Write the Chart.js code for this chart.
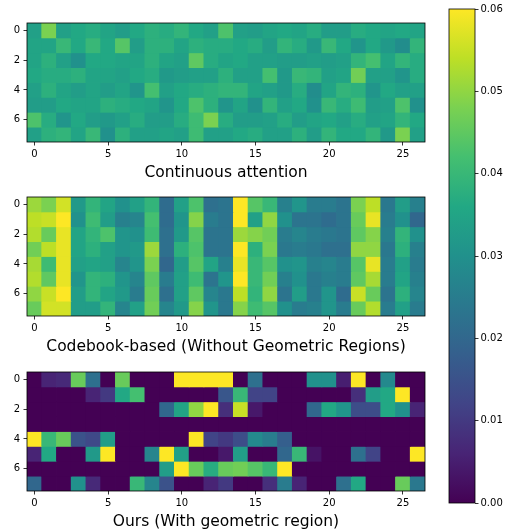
<!DOCTYPE html>
<html>
<head>
<meta charset="utf-8">
<script src="https://cdn.jsdelivr.net/npm/chart.js@4.4.0/dist/chart.umd.min.js"></script>
<style>
  body { margin: 0; background: #fff; }
  #wrap { position: relative; width: 509px; height: 529px; }
  canvas { position: absolute; }
</style>
</head>
<body>
<div id="wrap">
  <canvas id="h1" width="430" height="164" style="left:0;top:18px"></canvas>
  <canvas id="h2" width="430" height="164" style="left:0;top:192px"></canvas>
  <canvas id="h3" width="430" height="164" style="left:0;top:367px"></canvas>
  <canvas id="cbar" width="69" height="529" style="left:440px;top:0"></canvas>
</div>
<script>
// === Data (8 rows x 27 columns per panel) ===
const colLabels = Array.from({ length: 27 }, (_, i) => String(i));
const colTicks = [0, 5, 10, 15, 20, 25];
const rowTicks = [0, 2, 4, 6];
const cbarTicks = [0, 0.01, 0.02, 0.03, 0.04, 0.05, 0.06];
const vmin = 0, vmax = 0.06;

const continuousAttn = [
  [0.034,0.048,0.034,0.036,0.037,0.035,0.033,0.036,0.038,0.037,0.039,0.036,0.034,0.043,0.034,0.033,0.035,0.036,0.035,0.037,0.033,0.033,0.037,0.036,0.035,0.036,0.035],
  [0.035,0.035,0.040,0.036,0.040,0.036,0.044,0.033,0.038,0.038,0.035,0.038,0.037,0.037,0.036,0.037,0.033,0.039,0.037,0.032,0.040,0.036,0.031,0.036,0.032,0.029,0.039],
  [0.035,0.038,0.034,0.030,0.036,0.036,0.035,0.035,0.038,0.035,0.034,0.045,0.037,0.035,0.036,0.034,0.034,0.033,0.033,0.034,0.033,0.034,0.039,0.042,0.035,0.039,0.037],
  [0.036,0.037,0.037,0.038,0.035,0.035,0.034,0.036,0.037,0.032,0.033,0.034,0.034,0.038,0.034,0.034,0.042,0.032,0.040,0.039,0.034,0.035,0.047,0.034,0.034,0.031,0.037],
  [0.034,0.038,0.035,0.033,0.035,0.033,0.035,0.031,0.042,0.034,0.036,0.037,0.038,0.039,0.039,0.035,0.034,0.032,0.037,0.029,0.035,0.039,0.038,0.031,0.036,0.034,0.034],
  [0.033,0.033,0.036,0.035,0.035,0.038,0.037,0.036,0.035,0.031,0.036,0.043,0.038,0.031,0.035,0.030,0.039,0.034,0.036,0.030,0.040,0.037,0.041,0.033,0.034,0.043,0.030],
  [0.043,0.037,0.031,0.036,0.033,0.032,0.034,0.037,0.033,0.033,0.037,0.041,0.048,0.037,0.033,0.033,0.034,0.037,0.033,0.035,0.036,0.034,0.037,0.034,0.035,0.039,0.036],
  [0.034,0.038,0.039,0.035,0.040,0.030,0.038,0.034,0.034,0.035,0.034,0.041,0.034,0.034,0.036,0.037,0.034,0.034,0.038,0.033,0.039,0.036,0.036,0.039,0.032,0.048,0.034]
];

const codebookBased = [
  [0.051,0.048,0.056,0.032,0.039,0.035,0.030,0.034,0.039,0.021,0.034,0.043,0.022,0.023,0.060,0.044,0.040,0.026,0.031,0.025,0.025,0.023,0.048,0.054,0.024,0.033,0.026],
  [0.054,0.055,0.060,0.030,0.041,0.033,0.026,0.027,0.042,0.021,0.031,0.049,0.025,0.023,0.060,0.034,0.050,0.030,0.023,0.023,0.021,0.023,0.046,0.058,0.025,0.030,0.020],
  [0.053,0.046,0.058,0.035,0.039,0.043,0.031,0.030,0.041,0.022,0.032,0.044,0.023,0.023,0.051,0.049,0.047,0.025,0.027,0.025,0.024,0.023,0.045,0.049,0.026,0.039,0.030],
  [0.047,0.054,0.058,0.035,0.038,0.034,0.031,0.032,0.051,0.022,0.038,0.043,0.023,0.023,0.060,0.038,0.048,0.024,0.025,0.024,0.022,0.022,0.050,0.050,0.024,0.038,0.026],
  [0.052,0.041,0.058,0.034,0.035,0.034,0.027,0.031,0.048,0.020,0.033,0.044,0.035,0.026,0.058,0.040,0.044,0.030,0.031,0.026,0.027,0.025,0.044,0.058,0.025,0.034,0.025],
  [0.053,0.045,0.058,0.031,0.039,0.038,0.031,0.027,0.045,0.025,0.034,0.041,0.023,0.031,0.060,0.040,0.047,0.026,0.030,0.024,0.026,0.025,0.045,0.052,0.025,0.035,0.026],
  [0.050,0.055,0.060,0.033,0.039,0.035,0.032,0.025,0.046,0.022,0.034,0.045,0.027,0.024,0.054,0.039,0.050,0.023,0.033,0.024,0.031,0.021,0.055,0.046,0.023,0.038,0.027],
  [0.046,0.056,0.056,0.033,0.033,0.039,0.027,0.034,0.047,0.027,0.032,0.049,0.031,0.024,0.049,0.041,0.044,0.030,0.025,0.026,0.031,0.025,0.046,0.053,0.025,0.034,0.025]
];

const oursGeometric = [
  [0,0.006,0.007,0.046,0.022,0,0.046,0,0,0,0.060,0.060,0.060,0.060,0,0.022,0,0,0,0.030,0.030,0.005,0.060,0,0.028,0,0],
  [0,0,0,0,0.006,0.010,0.036,0.042,0,0,0,0,0,0.016,0.040,0.012,0.012,0,0,0,0,0,0.008,0.033,0.036,0.060,0],
  [0,0,0,0,0,0,0,0,0,0.020,0.035,0.050,0.060,0.008,0.055,0.004,0,0,0,0.020,0.036,0.031,0.014,0.014,0.036,0.030,0.006],
  [0,0,0,0,0,0,0,0,0,0,0,0,0,0,0,0,0,0,0,0,0,0,0,0,0,0,0],
  [0.060,0.040,0.046,0.015,0.013,0.033,0,0,0,0,0,0.060,0.012,0.010,0.014,0.028,0.025,0.018,0,0,0,0,0,0,0,0,0],
  [0.006,0.036,0,0,0.032,0.060,0,0,0.027,0.060,0.034,0,0,0.004,0.033,0,0,0.020,0.040,0.003,0,0,0.022,0.012,0,0,0.060],
  [0,0,0,0,0,0,0,0,0,0.033,0.060,0.046,0.037,0.046,0.047,0.044,0.040,0.060,0,0,0,0,0,0,0,0,0],
  [0.020,0,0,0.030,0.007,0,0,0.040,0.027,0.015,0,0,0.006,0.010,0,0,0.008,0.025,0.006,0,0,0.022,0.036,0,0,0.046,0.024]
];

// === Viridis colormap ===
const viridisStops = ['#440154','#482475','#414487','#355f8d','#2a788e','#21918c',
                      '#22a884','#44bf70','#7ad151','#bddf26','#fde725'];
const stopRgb = viridisStops.map(h => [1, 3, 5].map(i => parseInt(h.substr(i, 2), 16)));

function viridis(v) {
  let t = (v - vmin) / (vmax - vmin);
  t = Math.max(0, Math.min(1, t)) * 10;
  const i = Math.min(9, Math.floor(t));
  const f = t - i;
  const a = stopRgb[i], b = stopRgb[i + 1];
  const c = a.map((x, k) => Math.round(x + (b[k] - x) * f));
  return `rgb(${c[0]},${c[1]},${c[2]})`;
}

const FONT = "'DejaVu Sans', sans-serif";
Chart.defaults.font.family = FONT;
Chart.defaults.color = '#000';

const frame = {
  id: 'frame',
  afterDatasetsDraw(chart) {
    const a = chart.chartArea;
    const ctx = chart.ctx;
    ctx.save();
    ctx.strokeStyle = '#000';
    ctx.lineWidth = 0.8;
    ctx.strokeRect(a.left, a.top, a.right - a.left, a.bottom - a.top);
    ctx.restore();
  }
};

// drop the extra edge padding chart.js reserves for half tick labels
const noEdgePad = s => { s.paddingTop = 0; s.paddingBottom = 0; s.paddingLeft = 0; s.paddingRight = 0; };

// === Heatmap panel ===
function makeHeatmap(id, rows, title) {
  const datasets = rows.map((vals, r) => ({
    data: vals.map(() => [r - 0.5, r + 0.5]),
    backgroundColor: vals.map(viridis),
    borderWidth: 0,
    inflateAmount: 0.4,
    grouped: false,
    barPercentage: 1,
    categoryPercentage: 1
  }));

  new Chart(document.getElementById(id), {
    type: 'bar',
    data: { labels: colLabels, datasets },
    options: {
      responsive: false,
      animation: false,
      devicePixelRatio: 1,
      layout: { padding: { top: 5, right: 5, left: 0, bottom: 0 } },
      plugins: { legend: { display: false }, tooltip: { enabled: false } },
      scales: {
        x: {
          type: 'category',
          offset: true,
          grid: { offset: false, drawOnChartArea: false, tickLength: 3.5, color: '#000', lineWidth: 0.8 },
          border: { display: false },
          ticks: {
            autoSkip: false, maxRotation: 0, padding: 3, font: { size: 10 },
            callback: (v, i) => colTicks.includes(i) ? String(i) : null
          },
          title: { display: true, text: title, font: { size: 15.5 }, padding: 0 },
          afterFit: s => { s.height = 40; noEdgePad(s); }
        },
        y: {
          type: 'linear',
          reverse: true,
          min: -0.5,
          max: 7.5,
          grid: { drawOnChartArea: false, tickLength: 3.5, color: '#000', lineWidth: 0.8 },
          border: { display: false },
          ticks: { padding: 3.5, font: { size: 10 } },
          afterBuildTicks: s => { s.ticks = rowTicks.map(v => ({ value: v })); },
          afterFit: s => { s.width = 27; noEdgePad(s); }
        }
      }
    },
    plugins: [frame]
  });
}

makeHeatmap('h1', continuousAttn, 'Continuous attention');
makeHeatmap('h2', codebookBased, 'Codebook-based (Without Geometric Regions)');
makeHeatmap('h3', oursGeometric, 'Ours (With geometric region)');

// === Colorbar ===
new Chart(document.getElementById('cbar'), {
  type: 'bar',
  data: {
    labels: [''],
    datasets: [{
      data: [[vmin, vmax]],
      backgroundColor(c) {
        const a = c.chart.chartArea;
        if (!a) return null;
        const g = c.chart.ctx.createLinearGradient(0, a.bottom, 0, a.top);
        viridisStops.forEach((col, i) => g.addColorStop(i / 10, col));
        return g;
      },
      borderWidth: 0,
      barPercentage: 1,
      categoryPercentage: 1
    }]
  },
  options: {
    responsive: false,
    animation: false,
    devicePixelRatio: 1,
    layout: { padding: { top: 9, left: 9, right: 0, bottom: 26 } },
    plugins: { legend: { display: false }, tooltip: { enabled: false } },
    scales: {
      x: { display: false },
      y: {
        position: 'right',
        min: vmin,
        max: vmax,
        grid: { drawOnChartArea: false, tickLength: 3.5, color: '#000', lineWidth: 0.8 },
        border: { display: false },
        ticks: { padding: 2, font: { size: 10 }, callback: v => v.toFixed(2) },
        afterBuildTicks: s => { s.ticks = cbarTicks.map(v => ({ value: v })); },
        afterFit: s => { s.width = 34; noEdgePad(s); }
      }
    }
  },
  plugins: [frame]
});
</script>
</body>
</html>
